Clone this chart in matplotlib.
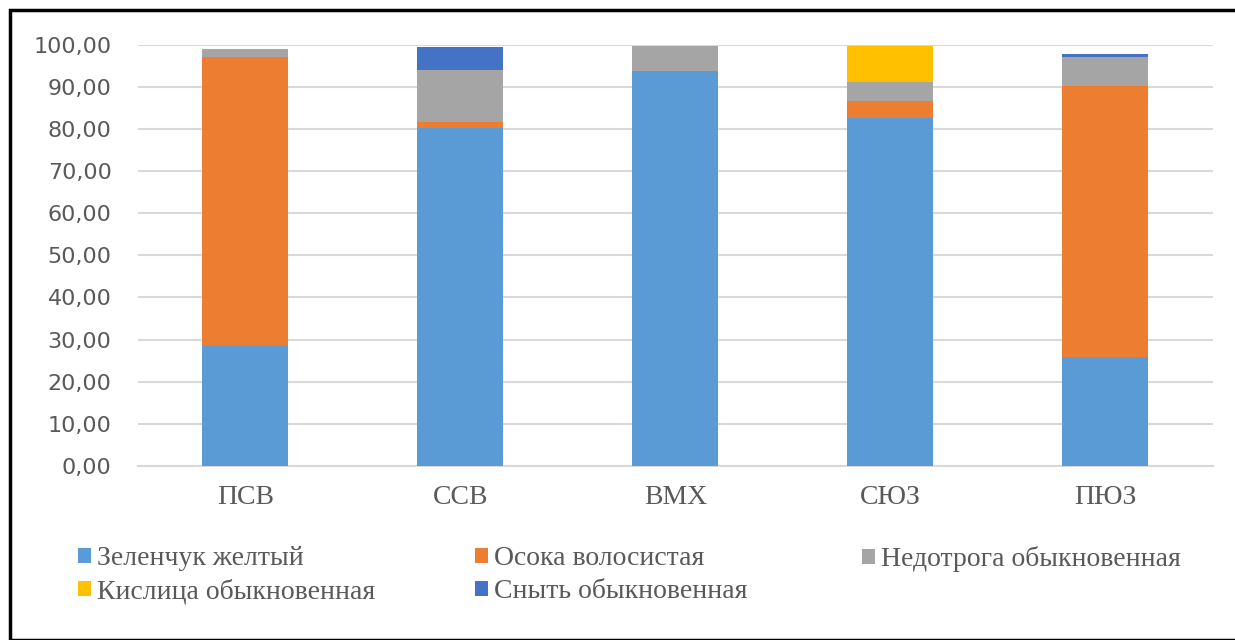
import matplotlib
matplotlib.use("Agg")
import matplotlib.pyplot as plt
import matplotlib.patches as patches
import numpy as np

categories = ["ПСВ", "ССВ", "ВМХ", "СЮЗ", "ПЮЗ"]
species = [
    "Зеленчук желтый",
    "Осока волосистая",
    "Недотрога обыкновенная",
    "Кислица обыкновенная",
    "Сныть обыкновенная",
]
zelenchuk = [28.5, 80.2, 93.7, 82.7, 25.9]
osoka = [68.5, 1.5, 0.0, 3.9, 64.4]
nedotroga = [2.0, 12.2, 6.1, 4.5, 6.9]
kislitsa = [0.0, 0.0, 0.0, 8.7, 0.0]
snyt = [0.0, 5.5, 0.0, 0.0, 0.6]
colors = ["#5b9bd5", "#ed7d31", "#a5a5a5", "#ffc000", "#4472c4"]

fig = plt.figure(figsize=(12.35, 6.4), dpi=100)
ax = fig.add_axes([0.1117, 0.272, 0.8703, 0.658])

x = np.arange(len(categories))
bottom = np.zeros(len(categories))
handles = []
for name, vals, color in zip(species, [zelenchuk, osoka, nedotroga, kislitsa, snyt], colors):
    bars = ax.bar(x, vals, 0.4, bottom=bottom, color=color, label=name, zorder=3)
    handles.append(bars)
    bottom += np.array(vals)

ax.set_xlim(-0.5, len(categories) - 0.5)
ax.set_ylim(0, 100)
ax.set_yticks(np.arange(0, 101, 10))
ax.set_yticklabels([f"{v:.2f}".replace(".", ",") for v in np.arange(0, 101, 10)],
                   fontsize=16, color="#595959", family="DejaVu Sans")
ax.set_xticks(x)
ax.set_xticklabels(categories, fontsize=20, color="#595959", family="Liberation Serif")
ax.tick_params(axis="both", length=0)
ax.tick_params(axis="x", pad=14)
ax.tick_params(axis="y", pad=19)
ax.grid(axis="y", color="#d9d9d9", linewidth=1.5, zorder=0)
for s in ["top", "right", "left"]:
    ax.spines[s].set_visible(False)
ax.spines["bottom"].set_color("#d9d9d9")
ax.spines["bottom"].set_linewidth(1.5)

# one legend per column so each column starts where it does in the original
columns = [([0, 3], 78), ([1, 4], 475), ([2], 862)]
for idx, xpix in columns:
    leg = fig.legend([handles[i] for i in idx], [species[i] for i in idx],
                     loc="upper left", bbox_to_anchor=(xpix / 1235, 1 - 546 / 640),
                     frameon=False, borderpad=0, borderaxespad=0,
                     prop={"family": "Liberation Serif", "size": 20},
                     handlelength=0.45, handleheight=0.45, handletextpad=0.25,
                     labelspacing=0.3, labelcolor="#595959")

fig.patches.append(patches.Rectangle((10 / 1235, 0), 1.0, 630 / 640, transform=fig.transFigure,
                                     fill=False, edgecolor="black", linewidth=2.5))

fig.savefig("out.png", dpi=100)
